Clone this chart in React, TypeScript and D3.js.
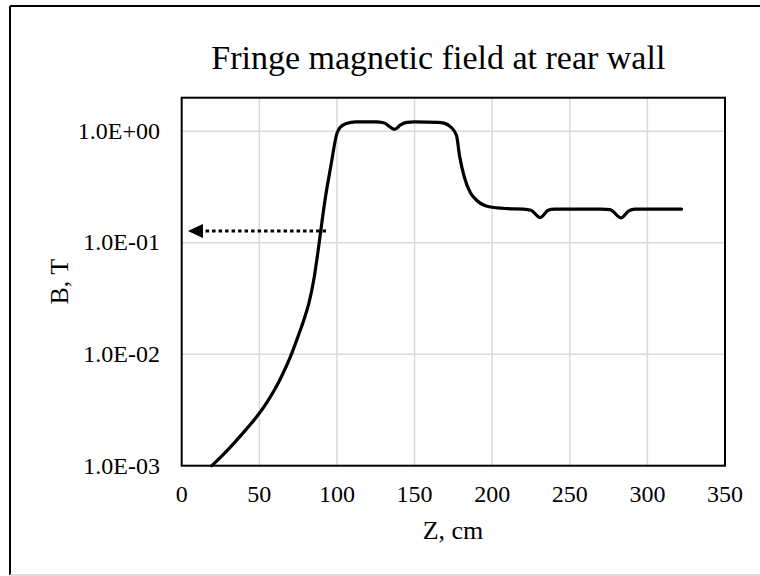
import React from 'react';
import * as d3 from 'd3';

// Fringe field profile (Z in cm, B in T)
const zValues = [19.3, 25, 30, 35, 40, 45, 50, 55, 60, 65, 70, 75, 79, 82, 85, 88, 90, 92.3, 96, 100, 102, 106, 112, 125, 130, 137.3, 141, 145, 150, 165, 169, 173, 177, 179, 182, 186, 190, 198, 210, 220, 225, 231, 236, 240, 250, 270, 276, 283, 288, 292, 300, 322];
const bValues = [0.001, 0.00119, 0.0014, 0.00167, 0.002, 0.00241, 0.00295, 0.00372, 0.00484, 0.0066, 0.00944, 0.0145, 0.0209, 0.0288, 0.0457, 0.0871, 0.141, 0.24, 0.479, 0.955, 1.08, 1.17, 1.21, 1.21, 1.19, 1.04, 1.14, 1.2, 1.21, 1.2, 1.18, 1.1, 0.92, 0.6, 0.39, 0.28, 0.24, 0.21, 0.202, 0.2, 0.195, 0.168, 0.195, 0.2, 0.2, 0.2, 0.198, 0.167, 0.193, 0.2, 0.2, 0.2];

// dotted arrow pointing to the B axis
const arrowZ = [93, 4];
const arrowB = [0.127, 0.127];

const xTicks = [0, 50, 100, 150, 200, 250, 300, 350];
const yTicks = [0.001, 0.01, 0.1, 1];
const yTickLabels = ['1.0E-03', '1.0E-02', '1.0E-01', '1.0E+00'];

const W = 760;
const H = 576;
const left = 181.7;
const right = 725;
const top = 97.7;
const bottom = 465.7;
const font = '"Liberation Serif", "Times New Roman", serif';

const App = () => {
  const x = d3.scaleLinear().domain([0, 350]).range([left, right]);
  const y = d3.scaleLog().domain([0.001, 1.995]).range([bottom, top]);

  const points: [number, number][] = zValues.map((z, i) => [z, bValues[i]]);
  const line = d3.line<[number, number]>()
    .x(d => x(d[0]))
    .y(d => y(d[1]))
    .curve(d3.curveMonotoneX);

  const ax0 = x(arrowZ[0]);
  const ax1 = x(arrowZ[1]);
  const ay = y(arrowB[0]);

  return (
    <svg width={W} height={H} style={{ position: 'absolute', left: 0, top: 0 }} fontFamily={font}>
      <rect x={0} y={0} width={W} height={H} fill="#fff" />
      {/* chart frame */}
      <line x1={10} y1={6} x2={W} y2={6} stroke="#000" strokeWidth={2} />
      <line x1={10} y1={6} x2={10} y2={575} stroke="#000" strokeWidth={2} />
      <line x1={10} y1={575} x2={W} y2={575} stroke="#d0d0d0" strokeWidth={1.5} />

      <text x={438.3} y={69} textAnchor="middle" fontSize={34} fill="#000">
        Fringe magnetic field at rear wall
      </text>

      {/* gridlines */}
      {xTicks.slice(1, -1).map(t => (
        <line key={'gx' + t} x1={x(t)} x2={x(t)} y1={top} y2={bottom} stroke="#d9d9d9" strokeWidth={1.5} />
      ))}
      {yTicks.slice(1).map(t => (
        <line key={'gy' + t} x1={left} x2={right} y1={y(t)} y2={y(t)} stroke="#d9d9d9" strokeWidth={1.5} />
      ))}

      <rect x={left} y={top} width={right - left} height={bottom - top} fill="none" stroke="#000" strokeWidth={2} />

      <path d={line(points) || ''} fill="none" stroke="#000" strokeWidth={3.2} strokeLinejoin="round" strokeLinecap="round" />

      {/* dotted arrow */}
      <line x1={ax0} y1={ay} x2={ax1 + 12} y2={ay} stroke="#000" strokeWidth={3} strokeDasharray="3.5 3" />
      <path d={`M${ax1},${ay} L${ax1 + 15},${ay - 7} L${ax1 + 15},${ay + 7} Z`} fill="#000" />

      {/* tick labels */}
      {xTicks.map(t => (
        <text key={'tx' + t} x={x(t)} y={501.7} textAnchor="middle" fontSize={24} fill="#000">{t}</text>
      ))}
      {yTicks.map((t, i) => (
        <text key={'ty' + t} x={160} y={y(t) + 7.8} textAnchor="end" fontSize={24} fill="#000">{yTickLabels[i]}</text>
      ))}

      <text x={453} y={539.3} textAnchor="middle" fontSize={26} fill="#000">Z, cm</text>
      <text transform={`translate(68,281.7) rotate(-90)`} textAnchor="middle" fontSize={26} fill="#000">B, T</text>
    </svg>
  );
};

export default App;
